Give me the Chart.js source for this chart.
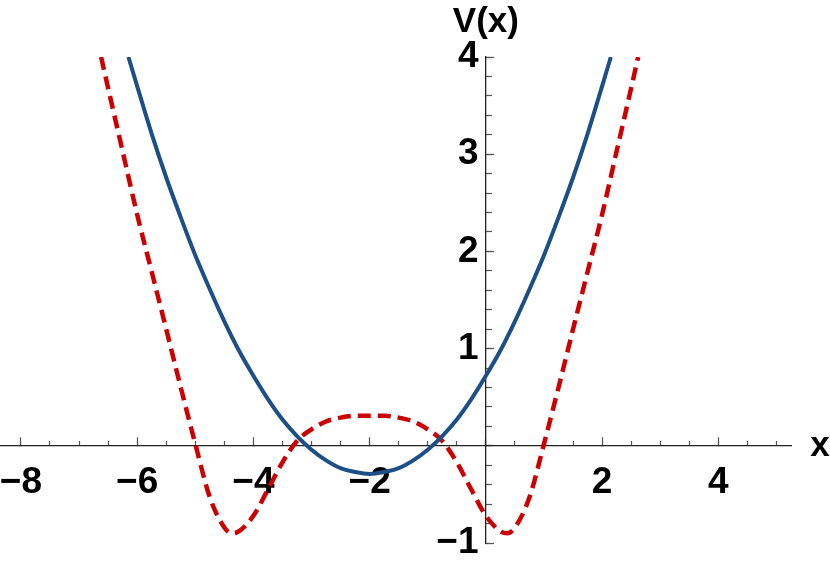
<!DOCTYPE html>
<html>
<head>
<meta charset="utf-8">
<script src="https://cdn.jsdelivr.net/npm/chart.js@4/dist/chart.umd.min.js"></script>
<style>
  html, body { margin: 0; padding: 0; background: #fff; }
  #wrap { width: 830px; height: 565px; }
</style>
</head>
<body>
<div id="wrap"><canvas id="plot" width="830" height="565"></canvas></div>
<script>
// solid blue curve
const blueX = [-6.15, -6.0, -5.75, -5.5, -5.25, -5.0, -4.75, -4.5, -4.25, -4.0, -3.75, -3.5, -3.25, -3.0, -2.75, -2.5, -2.25, -2.0,
  -1.75, -1.5, -1.25, -1.0, -0.75, -0.5, -0.25, 0.0, 0.25, 0.5, 0.75, 1.0, 1.25, 1.5, 1.75, 2.0, 2.15]
const blueV = [4.0, 3.70, 3.21, 2.76, 2.35, 1.96, 1.61, 1.28, 0.98, 0.72, 0.48, 0.27, 0.10, -0.04, -0.15, -0.23, -0.27, -0.29,
  -0.27, -0.23, -0.15, -0.04, 0.10, 0.27, 0.48, 0.72, 0.98, 1.28, 1.61, 1.96, 2.35, 2.76, 3.21, 3.70, 4.0]

// dashed red curve
const redX = [-6.62, -6.5, -6.25, -6.0, -5.75, -5.5, -5.25, -5.0, -4.75, -4.5, -4.37, -4.25, -4.0, -3.75, -3.5, -3.25, -3.0, -2.75, -2.5, -2.25, -2.0,
  -1.75, -1.5, -1.25, -1.0, -0.75, -0.5, -0.25, 0.0, 0.25, 0.37, 0.5, 0.75, 1.0, 1.25, 1.5, 1.75, 2.0, 2.25, 2.5, 2.62]
const redV = [4.0, 3.68, 3.03, 2.38, 1.79, 1.2, 0.6, 0.02, -0.53, -0.84, -0.90, -0.88, -0.72, -0.45, -0.17, 0.05, 0.17, 0.25, 0.29, 0.31, 0.31,
  0.31, 0.29, 0.25, 0.17, 0.05, -0.17, -0.45, -0.72, -0.88, -0.90, -0.84, -0.53, 0.02, 0.6, 1.2, 1.79, 2.38, 3.03, 3.68, 4.0]

const xMin = -8.36, xMax = 5.25
const yMin = -1, yMax = 4
const xLabelStep = 2, xMinorStep = 0.5
const yLabelStep = 1, yMinorStep = 0.2

const fontFamily = '"Liberation Sans", Arial, sans-serif'

function toPoints(xs, ys) {
  return xs.map((x, i) => ({ x: x, y: ys[i] }))
}

function tickText(value) {
  if (Math.abs(value) < 1e-9) return ''
  let v = Math.round(value * 100) / 100
  return v < 0 ? '\u2212' + Math.abs(v) : String(v)
}

function noPadding(scale) {
  scale.paddingLeft = 0
  scale.paddingRight = 0
  scale.paddingTop = 0
  scale.paddingBottom = 0
}

// axis names drawn next to the axes
const axisNames = {
  id: 'axisNames',
  afterDraw(chart) {
    const ctx = chart.ctx
    const xs = chart.scales.x
    const ys = chart.scales.y
    ctx.save()
    ctx.fillStyle = '#000'
    ctx.font = 'bold 35px ' + fontFamily
    ctx.textAlign = 'center'
    ctx.textBaseline = 'middle'
    ctx.fillText('V(x)', xs.getPixelForValue(0), chart.chartArea.top - 35)
    ctx.fillText('x', chart.chartArea.right + 29, ys.getPixelForValue(0) + 1)
    ctx.restore()
  }
}

const minorTicks = (len) => ({
  display: true,
  drawOnChartArea: false,
  drawTicks: true,
  tickLength: len,
  tickColor: '#555',
  tickWidth: 1.2
})

const config = {
  type: 'line',
  data: {
    datasets: [{
      label: 'blue',
      data: toPoints(blueX, blueV),
      borderColor: '#1c4f87',
      borderWidth: 4,
      pointRadius: 0,
      cubicInterpolationMode: 'monotone',
      fill: false
    },
    {
      label: 'red',
      data: toPoints(redX, redV),
      borderColor: '#cc0000',
      borderWidth: 4.5,
      borderDash: [13, 7],
      pointRadius: 0,
      cubicInterpolationMode: 'monotone',
      fill: false
    }]
  },
  options: {
    responsive: false,
    animation: false,
    layout: {
      padding: { left: 0, right: 39, top: 57, bottom: 22 }
    },
    scales: {
      x: {
        type: 'linear',
        position: { y: 0 },
        min: xMin,
        max: xMax,
        afterFit: noPadding,
        grid: minorTicks(-9),
        border: { display: true, color: '#222', width: 1.3 },
        ticks: {
          stepSize: xLabelStep,
          includeBounds: false,
          autoSkip: false,
          maxRotation: 0,
          padding: 24,
          color: '#000',
          font: { family: fontFamily, size: 37, weight: 'bold' },
          callback: (v) => tickText(v)
        }
      },
      xMinor: {
        type: 'linear',
        position: { y: 0 },
        min: xMin,
        max: xMax,
        afterFit: noPadding,
        grid: minorTicks(-5),
        border: { display: false },
        ticks: {
          stepSize: xMinorStep,
          includeBounds: false,
          autoSkip: false,
          maxRotation: 0,
          font: { size: 1 },
          callback: () => ''
        }
      },
      y: {
        type: 'linear',
        position: { x: 0 },
        min: yMin,
        max: yMax,
        afterFit: noPadding,
        grid: minorTicks(-9),
        border: { display: true, color: '#222', width: 1.3 },
        ticks: {
          stepSize: yLabelStep,
          includeBounds: false,
          autoSkip: false,
          padding: 8,
          color: '#000',
          font: { family: fontFamily, size: 37, weight: 'bold' },
          // thin space keeps the label off the axis line
          callback: (v) => { const t = tickText(v); return t ? t + '\u2009' : '' }
        }
      },
      yMinor: {
        type: 'linear',
        position: { x: 0 },
        min: yMin,
        max: yMax,
        afterFit: noPadding,
        grid: minorTicks(-6),
        border: { display: false },
        ticks: {
          stepSize: yMinorStep,
          includeBounds: false,
          autoSkip: false,
          font: { size: 1 },
          callback: () => ''
        }
      }
    },
    plugins: {
      legend: { display: false },
      tooltip: { enabled: false },
      title: { display: false }
    }
  },
  plugins: [axisNames]
}

const plotElement = document.getElementById('plot').getContext('2d')
const plot = new Chart(plotElement, config)
</script>
</body>
</html>
